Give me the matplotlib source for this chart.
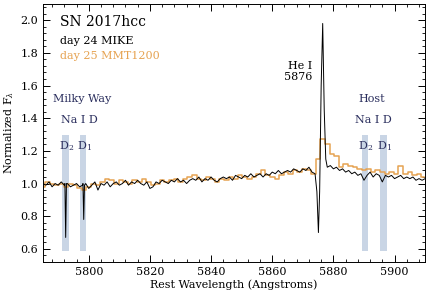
import numpy as np
import matplotlib
matplotlib.use('Agg')
from matplotlib import pyplot as plt
from matplotlib.ticker import MultipleLocator

plt.rcParams['font.family'] = ['DejaVu Serif']
plt.rcParams['mathtext.fontset'] = 'dejavuserif'

# MIKE spectrum (day 24), 1 A grid continuum
black_start = 5785
black_flux = [
    1.00, 0.99, 1.01, 0.98, 1.00, 0.99, 1.01, 0.99, 1.00, 0.98,
    0.99, 1.00, 0.98, 0.99, 1.00, 0.97, 0.99, 1.01, 0.96, 1.00,
    0.99, 1.01, 0.98, 1.00, 1.01, 0.99, 1.00, 1.02, 0.99, 1.01,
    1.00, 1.02, 1.00, 0.99, 1.01, 0.97, 0.98, 1.01, 1.00, 1.02,
    1.01, 1.00, 1.02, 1.01, 1.03, 1.01, 1.02, 1.00, 1.02, 1.03,
    1.02, 1.04, 1.01, 1.03, 1.02, 1.04, 1.02, 1.01, 1.03, 1.04,
    1.03, 1.04, 1.02, 1.05, 1.04, 1.03, 1.05, 1.04, 1.06, 1.04,
    1.05, 1.06, 1.04, 1.06, 1.05, 1.07, 1.06, 1.08, 1.06, 1.07,
    1.08, 1.07, 1.09, 1.08, 1.07, 1.09, 1.08, 1.10, 1.07, 1.06,
    1.00, 1.00, 1.00, 1.00, 1.11, 1.09, 1.10, 1.08, 1.09, 1.07,
    1.08, 1.06, 1.07, 1.05, 1.06, 1.02, 1.05, 1.07, 1.04, 1.06,
    1.05, 1.01, 1.05, 1.04, 1.05, 1.03, 1.04, 1.05, 1.03, 1.04,
    1.03, 1.04, 1.02, 1.03, 1.02, 1.03,
]
# narrow features in the MIKE spectrum
mw_wave = [5792.2, 5792.45, 5792.7, 5798.1, 5798.35, 5798.6]
mw_flux = [1.00, 0.67, 1.00, 1.00, 0.78, 0.99]
he_wave = [5874.0, 5874.6, 5875.1, 5875.5, 5876.0, 5876.5, 5877.0, 5877.5, 5878.0]
he_flux = [1.06, 0.95, 0.70, 0.95, 1.60, 1.98, 1.45, 1.15, 1.10]

# MMT1200 spectrum (day 25), 1.5 A bins
orange_start = 5785.0
orange_flux = [
    0.98, 1.01, 1.00, 0.99, 1.00, 0.98, 1.00, 0.99, 0.97, 0.96,
    0.98, 1.00, 0.99, 1.01, 1.03, 1.02, 1.00, 1.02, 1.01, 1.00,
    1.02, 1.01, 1.03, 1.01, 0.99, 1.00, 1.02, 1.01, 1.02, 1.03,
    1.01, 1.03, 1.04, 1.05, 1.03, 1.02, 1.04, 1.03, 1.01, 1.03,
    1.02, 1.04, 1.03, 1.05, 1.04, 1.03, 1.04, 1.06, 1.08, 1.05,
    1.04, 1.03, 1.05, 1.07, 1.06, 1.08, 1.07, 1.09, 1.08, 1.06,
    1.15, 1.27, 1.24, 1.18, 1.17, 1.10, 1.12, 1.11, 1.10, 1.09,
    1.08, 1.09, 1.07, 1.08, 1.07, 1.06, 1.07, 1.06, 1.11, 1.06,
    1.07, 1.05, 1.06, 1.04,
]

# Na I D bands: (left, right)
mw_bands = [(5791.2, 5793.5), (5797.1, 5799.1)]
host_bands = [(5889.3, 5891.2), (5895.2, 5897.5)]

navy = '#2b2f5e'
band_color = '#c9d5e5'
orange = '#e6a352'

grid_wave = black_start + np.arange(len(black_flux))
grid_flux = np.array(black_flux)
keep = (grid_wave < 5874) | (grid_wave > 5878)
bw = np.concatenate([grid_wave[keep], mw_wave, he_wave])
bf = np.concatenate([grid_flux[keep], mw_flux, he_flux])
order = np.argsort(bw)
bw, bf = bw[order], bf[order]

ow = orange_start + 1.5 * np.arange(len(orange_flux))

fig = plt.figure(figsize=(4.29, 2.98), dpi=100)
ax = fig.add_axes([0.100, 0.121, 0.891, 0.866])

for x0, x1 in mw_bands + host_bands:
    ax.fill_betweenx([0.59, 1.30], x0, x1, color=band_color, lw=0, zorder=1)

ax.plot(ow, orange_flux, drawstyle='steps-mid', color=orange, lw=1.1, zorder=2)
ax.plot(bw, bf, color='black', lw=0.7, zorder=3)

ax.set_xlim(5785, 5910)
ax.set_ylim(0.52, 2.1)
ax.xaxis.set_major_locator(MultipleLocator(20))
ax.xaxis.set_minor_locator(MultipleLocator(4))
ax.yaxis.set_major_locator(MultipleLocator(0.2))
ax.yaxis.set_minor_locator(MultipleLocator(0.04))
ax.tick_params(which='both', direction='in', top=True, right=True, labelsize=8)
ax.tick_params(which='major', length=5, width=0.7)
ax.tick_params(which='minor', length=2.5, width=0.6)
for s in ax.spines.values():
    s.set_linewidth(0.7)

ax.set_xlabel('Rest Wavelength (Angstroms)', fontsize=8, labelpad=2)
ax.set_ylabel(r'Normalized F$_\lambda$', fontsize=8, labelpad=3)

ax.text(5790.6, 1.99, 'SN 2017hcc', fontsize=10, va='center')
ax.text(5790.6, 1.87, 'day 24 MIKE', fontsize=8, va='center', color='black')
ax.text(5790.6, 1.78, 'day 25 MMT1200', fontsize=8, va='center', color=orange)

ax.text(5873.2, 1.72, 'He I', fontsize=8, ha='right', va='center')
ax.text(5873.2, 1.65, '5876', fontsize=8, ha='right', va='center')

ax.text(5797.8, 1.515, 'Milky Way', fontsize=8, ha='center', va='center', color=navy)
ax.text(5796.8, 1.39, 'Na I D', fontsize=8, ha='center', va='center', color=navy)
ax.text(5892.5, 1.515, 'Host', fontsize=8, ha='center', va='center', color=navy)
ax.text(5893.2, 1.39, 'Na I D', fontsize=8, ha='center', va='center', color=navy)

for (x0, x1), lab in zip(mw_bands + host_bands, ['D$_2$', 'D$_1$', 'D$_2$', 'D$_1$']):
    ax.text((x0 + x1) / 2 + 0.4, 1.23, lab, fontsize=8, ha='center', va='center', color=navy)

fig.savefig('out.png', dpi=100)
